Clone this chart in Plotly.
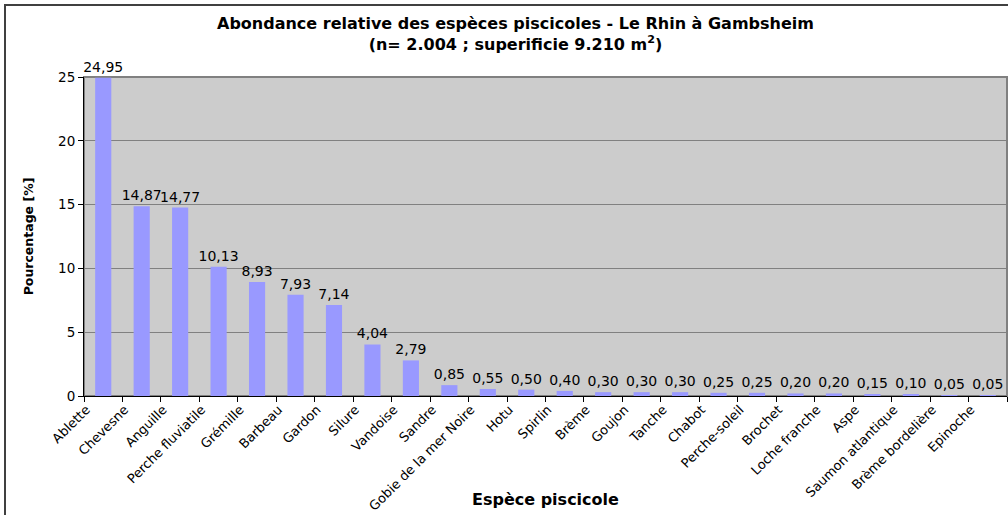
import plotly.graph_objects as go

# Relative abundance of fish species (%), Rhine at Gambsheim
especes = [
    "Ablette", "Chevesne", "Anguille", "Perche fluviatile", "Grémille",
    "Barbeau", "Gardon", "Silure", "Vandoise", "Sandre",
    "Gobie de la mer Noire", "Hotu", "Spirlin", "Brème", "Goujon",
    "Tanche", "Chabot", "Perche-soleil", "Brochet", "Loche franche",
    "Aspe", "Saumon atlantique", "Brème bordelière", "Epinoche",
]
pourcentages = [
    24.95, 14.87, 14.77, 10.13, 8.93,
    7.93, 7.14, 4.04, 2.79, 0.85,
    0.55, 0.50, 0.40, 0.30, 0.30,
    0.30, 0.25, 0.25, 0.20, 0.20,
    0.15, 0.10, 0.05, 0.05,
]
y_ticks = [0, 5, 10, 15, 20, 25]

W, H = 1008, 515
ML, MR, MT, MB = 84, 1, 77, 119
PW = W - ML - MR
PH = H - MT - MB


def px_x(x):
    return (x - ML) / PW


def px_y(y):
    return (H - MB - y) / PH


FONT = "DejaVu Sans, Verdana, sans-serif"

labels = [f"{v:.2f}".replace(".", ",") for v in pourcentages]

fig = go.Figure(
    go.Bar(
        x=especes,
        y=pourcentages,
        marker=dict(color="#9999FF", line=dict(width=0)),
        text=labels,
        textposition="outside",
        constraintext="none",
        textfont=dict(family=FONT, size=14, color="#000000"),
        cliponaxis=False,
        width=0.42,
    )
)

fig.update_layout(
    width=W,
    height=H,
    margin=dict(l=ML, r=MR, t=MT, b=MB, pad=0),
    paper_bgcolor="#FFFFFF",
    plot_bgcolor="#CCCCCC",
    showlegend=False,
    font=dict(family=FONT, size=13, color="#000000"),
    annotations=[
        dict(
            text="<b>Abondance relative des espèces piscicoles - Le Rhin à Gambsheim</b>"
                 "<br><b>(n= 2.004 ; superificie 9.210 m<sup>2</sup>)</b>",
            x=px_x(515), y=px_y(34), xref="paper", yref="paper",
            xanchor="center", yanchor="middle", showarrow=False,
            font=dict(family=FONT, size=16, color="#000000"),
        ),
        dict(
            text="<b>Espèce piscicole</b>",
            x=0.5, y=px_y(499), xref="paper", yref="paper",
            xanchor="center", yanchor="middle", showarrow=False,
            font=dict(family=FONT, size=16, color="#000000"),
        ),
    ],
    shapes=[
        # plot area frame
        dict(type="rect", xref="paper", yref="paper", x0=0, x1=1, y0=0, y1=1,
             line=dict(color="#808080", width=2), layer="below"),
        # chart area border (top and left edges)
        dict(type="line", xref="paper", yref="paper",
             x0=px_x(4), x1=px_x(W + 5), y0=px_y(5), y1=px_y(5),
             line=dict(color="#404040", width=2)),
        dict(type="line", xref="paper", yref="paper",
             x0=px_x(5), x1=px_x(5), y0=px_y(4), y1=px_y(H + 5),
             line=dict(color="#404040", width=2)),
    ],
)

fig.update_xaxes(
    type="category",
    tickangle=-45,
    tickfont=dict(family=FONT, size=13, color="#000000"),
    ticklabelshift=-17,
    ticks="outside",
    tickson="boundaries",
    ticklen=5,
    tickcolor="#000000",
    showline=True,
    linecolor="#000000",
    linewidth=1,
    showgrid=False,
    automargin=False,
)

fig.update_yaxes(
    range=[0, 25],
    tickvals=y_ticks,
    ticktext=[str(v) for v in y_ticks],
    tickfont=dict(family=FONT, size=13.5, color="#000000"),
    ticks="outside",
    ticklen=5,
    tickcolor="#000000",
    showline=True,
    linecolor="#000000",
    linewidth=1,
    showgrid=True,
    gridcolor="#808080",
    gridwidth=1,
    zeroline=False,
    title=dict(text="<b>Pourcentage [%]</b>",
               font=dict(family=FONT, size=12.5, color="#000000"),
               standoff=21),
    automargin=False,
)

fig.write_html("out.html")
